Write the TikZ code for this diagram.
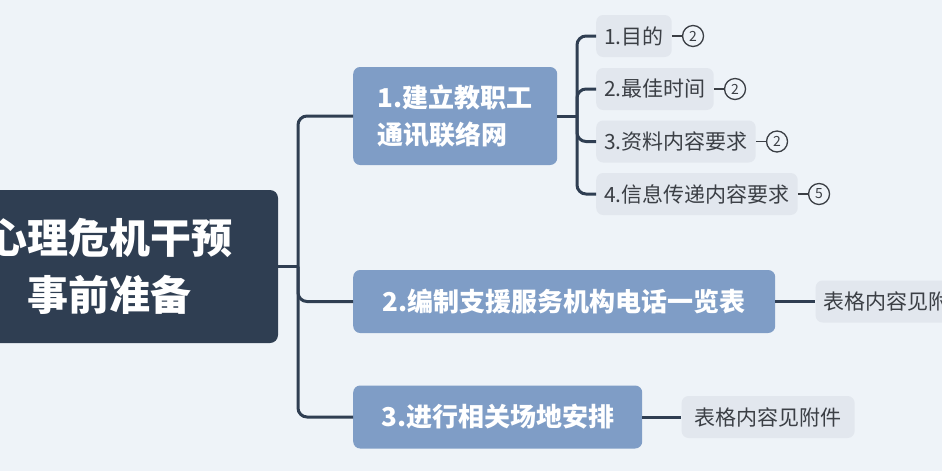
\documentclass[tikz,border=0pt]{standalone}
\usepackage{fontspec}
\setmainfont{Noto Sans CJK SC}
\usetikzlibrary{positioning}
\definecolor{rootblue}{HTML}{2F3E52}
\definecolor{branchblue}{HTML}{7F9DC6}
\definecolor{leafgray}{HTML}{E2E7EE}
\definecolor{paper}{HTML}{EEF3F8}
\definecolor{inkgray}{HTML}{3B3F45}
\tikzset{
  rootbox/.style={
    rectangle, rounded corners=8pt, fill=rootblue, text=white,
    font=\fontsize{41}{57}\selectfont\bfseries, align=center,
    minimum width=336pt, minimum height=153pt
  },
  branchbox/.style={
    rectangle, rounded corners=7pt, fill=branchblue, text=white,
    font=\fontsize{26}{37}\selectfont\bfseries, align=left,
    anchor=west, minimum height=63pt
  },
  leafbox/.style={
    rectangle, rounded corners=7pt, fill=leafgray, text=inkgray,
    font=\fontsize{21}{24}\selectfont, anchor=west,
    inner xsep=8pt, minimum height=42pt
  },
  countcircle/.style={
    circle, draw=inkgray, line width=1.3pt, text=inkgray,
    font=\fontsize{14}{14}\selectfont, inner sep=0pt, minimum size=21pt
  },
  linkline/.style={draw=rootblue, line width=3pt, rounded corners=9pt},
  tickline/.style={draw=inkgray, line width=1.5pt},
}

\begin{document}
\begin{tikzpicture}[x=1pt, y=-1pt]
  \clip (0,0) rectangle (942,471);
  \fill[paper] (0,0) rectangle (942,471);

  % Root topic
  \node[rootbox] (root) at (110,266.5) {心理危机干预\\事前准备};

  % Main branches
  \node[branchbox, minimum width=204pt, minimum height=98pt] (plan1) at (353,116)
    {1.建立教职工\\通讯联络网};
  \node[branchbox, minimum width=422pt] (plan2) at (353,301.5)
    {2.编制支援服务机构电话一览表};
  \node[branchbox, minimum width=289pt] (plan3) at (353,417)
    {3.进行相关场地安排};

  % Trunk
  \coordinate (trunk) at (298,266.5);
  \draw[linkline] (root.east) -- (trunk);
  \draw[linkline] (plan1.west) -| (trunk) |- (plan3.west);
  \draw[linkline] (trunk) |- (plan2.west);

  % Sub-topics of branch 1
  \node[leafbox] (aim)  at (596,36)  {1.目的};
  \node[leafbox] (time) at (596,89)  {2.最佳时间};
  \node[leafbox] (data) at (596,141.5) {3.资料内容要求};
  \node[leafbox] (info) at (596,194) {4.信息传递内容要求};

  \coordinate (fork) at (577,116);
  \draw[linkline] (plan1.east) -- (fork);
  \draw[linkline] (aim.west) -| (fork) |- (info.west);
  \draw[linkline] (fork) |- (time.west);
  \draw[linkline] (fork) |- (data.west);

  % Collapsed counts
  \node[countcircle, right=10pt of aim]  (aimn)  {2};
  \node[countcircle, right=10pt of time] (timen) {2};
  \node[countcircle, right=10pt of data] (datan) {2};
  \node[countcircle, right=10pt of info] (infon) {5};
  \draw[tickline] (aim)  -- (aimn);
  \draw[tickline] (time) -- (timen);
  \draw[tickline] (data) -- (datan);
  \draw[tickline] (info) -- (infon);

  % Leaves of branches 2 and 3
  \node[leafbox, right=40pt of plan2] (table2) {表格内容见附件};
  \node[leafbox, right=39pt of plan3, minimum width=173pt, align=left] (table3)
    {表格内容见附件};
  \draw[linkline] (plan2) -- (table2);
  \draw[linkline] (plan3) -- (table3);
\end{tikzpicture}
\end{document}
